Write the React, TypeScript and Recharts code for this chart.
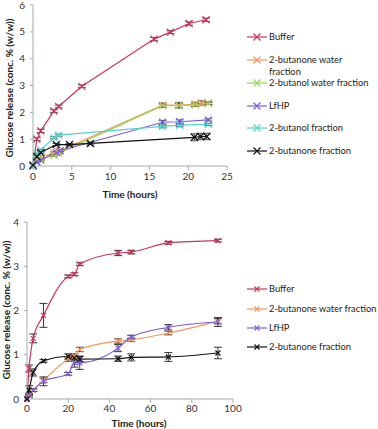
import { LineChart, Line, XAxis, YAxis, ErrorBar } from 'recharts';

// ---- top chart (0-25 h) ----
const t1Buffer = [0, 0.5, 1, 2.7, 3.3, 6.3, 15.6, 17.7, 20.1, 22.3];
const v1Buffer = [0, 1.0, 1.31, 2.05, 2.22, 2.97, 4.73, 4.99, 5.31, 5.45];
const e1Buffer = [0, 0.05, 0.06, 0.05, 0.05, 0.05, 0.06, 0.05, 0.06, 0.06];

const t1OneWater = [0, 0.5, 1, 2.7, 3.3, 16.7, 18.8, 20.9, 21.7, 22.6];
const v1OneWater = [0.03, 0.25, 0.33, 0.48, 0.55, 2.27, 2.27, 2.3, 2.35, 2.35];
const e1OneWater = [0, 0.03, 0.03, 0.04, 0.04, 0.08, 0.1, 0.08, 0.08, 0.05];

const t1OlWater = [0, 0.5, 1, 2.7, 3.3, 16.7, 18.8, 20.9, 22.6];
const v1OlWater = [0, 0.18, 0.26, 0.4, 0.48, 2.25, 2.25, 2.28, 2.33];
const e1OlWater = [0, 0.03, 0.03, 0.03, 0.03, 0.06, 0.08, 0.06, 0.04];

const t1LfHP = [0, 0.5, 1, 3, 3.5, 16.7, 18.9, 22.6];
const v1LfHP = [0, 0.15, 0.22, 0.5, 0.57, 1.63, 1.65, 1.72];
const e1LfHP = [0, 0.02, 0.02, 0.04, 0.04, 0.07, 0.07, 0.04];

const t1Ol = [0, 0.5, 1, 2.7, 3.3, 16.7, 18.9, 22.6];
const v1Ol = [0, 0.45, 0.6, 1.05, 1.15, 1.48, 1.52, 1.55];
const e1Ol = [0, 0.03, 0.03, 0.04, 0.04, 0.06, 0.06, 0.04];

const t1One = [0, 0.5, 1, 3, 4.7, 7.4, 20.8, 21.6, 22.4];
const v1One = [0.03, 0.35, 0.5, 0.8, 0.8, 0.84, 1.07, 1.1, 1.1];
const e1One = [0, 0.03, 0.03, 0.04, 0.04, 0.05, 0.13, 0.12, 0.12];

// ---- bottom chart (0-100 h) ----
const t2 = [0, 1, 3, 8, 20, 23, 25.6, 44.2, 50.6, 68.6, 92.7];
const v2Buffer = [0, 0.69, 1.37, 1.89, 2.77, 2.82, 3.05, 3.3, 3.32, 3.53, 3.58];
const e2Buffer = [0, 0.08, 0.1, 0.27, 0.03, 0.03, 0.03, 0.06, 0.04, 0.03, 0.03];
const v2OneWater = [0, 0.07, 0.2, 0.42, 0.9, 0.97, 1.12, 1.31, 1.34, 1.49, 1.76];
const e2OneWater = [0, 0.03, 0.03, 0.05, 0.05, 0.05, 0.05, 0.05, 0.04, 0.04, 0.06];
const v2LfHP = [0, 0.1, 0.2, 0.4, 0.57, 0.82, 0.82, 1.15, 1.4, 1.62, 1.74];
const e2LfHP = [0, 0.03, 0.03, 0.1, 0.03, 0.1, 0.15, 0.08, 0.04, 0.06, 0.1];
const v2One = [0, 0.2, 0.6, 0.86, 0.96, 0.93, 0.9, 0.91, 0.94, 0.95, 1.04];
const e2One = [0, 0.1, 0.08, 0.03, 0.06, 0.05, 0.06, 0.06, 0.08, 0.1, 0.13];

const xTicks1 = [0, 5, 10, 15, 20, 25];
const yTicks1 = [0, 1, 2, 3, 4, 5, 6];
const xTicks2 = [0, 20, 40, 60, 80, 100];
const yTicks2 = [0, 1, 2, 3, 4];

const C_BUFFER = '#c9375a';
const C_ONEWATER = '#f7975a';
const C_OLWATER = '#95d65a';
const C_LFHP = '#7d5ed9';
const C_OL = '#4fd3cf';
const C_ONE = '#111111';

const FONT = 'Lato, "Open Sans", sans-serif';
const AXIS = '#a3abb3';

const pts = (xs: number[], ys: number[], es: number[]) =>
  xs.map((x, i) => ({ x, y: ys[i], e: es[i] }));

const top = [
  { name: 'Buffer', color: C_BUFFER, data: pts(t1Buffer, v1Buffer, e1Buffer) },
  { name: '2-butanone water\nfraction', color: C_ONEWATER, data: pts(t1OneWater, v1OneWater, e1OneWater) },
  { name: '2-butanol water fraction', color: C_OLWATER, data: pts(t1OlWater, v1OlWater, e1OlWater) },
  { name: 'LfHP', color: C_LFHP, data: pts(t1LfHP, v1LfHP, e1LfHP) },
  { name: '2-butanol fraction', color: C_OL, data: pts(t1Ol, v1Ol, e1Ol) },
  { name: '2-butanone fraction', color: C_ONE, data: pts(t1One, v1One, e1One) },
];

const bottom = [
  { name: 'Buffer', color: C_BUFFER, data: pts(t2, v2Buffer, e2Buffer) },
  { name: '2-butanone water fraction', color: C_ONEWATER, data: pts(t2, v2OneWater, e2OneWater) },
  { name: 'LfHP', color: C_LFHP, data: pts(t2, v2LfHP, e2LfHP) },
  { name: '2-butanone fraction', color: C_ONE, data: pts(t2, v2One, e2One) },
];

function xDot(color: string, s: number) {
  return (props: any) => {
    const { cx, cy, index } = props;
    if (cx == null || cy == null) return <g key={index} />;
    return (
      <path
        key={index}
        d={`M${cx - s},${cy - s}L${cx + s},${cy + s}M${cx - s},${cy + s}L${cx + s},${cy - s}`}
        stroke={color}
        strokeWidth={1.2}
        fill="none"
      />
    );
  };
}

function yTitle(x: number, y: number) {
  return () => (
    <text
      x={x}
      y={y}
      transform={`rotate(-90 ${x} ${y})`}
      textAnchor="middle"
      dominantBaseline="central"
      fontFamily={FONT}
      fontWeight="bold"
      fontSize={10}
      fill="#222"
    >
      Glucose release (conc. % (w/w))
    </text>
  );
}

function Legend({ items, x, ys, s }: { items: { name: string; color: string }[]; x: number; ys: number[]; s: number }) {
  return (
    <>
      {items.map((it, i) => (
        <div
          key={it.name}
          style={{ position: 'absolute', left: x, top: ys[i] - 7, display: 'flex', alignItems: 'flex-start' }}
        >
          <svg width={22} height={14} style={{ flex: 'none' }}>
            <line x1={0} y1={7} x2={20} y2={7} stroke={it.color} strokeWidth={1.2} />
            <path
              d={`M${10 - s},${7 - s}L${10 + s},${7 + s}M${10 - s},${7 + s}L${10 + s},${7 - s}`}
              stroke={it.color}
              strokeWidth={1.2}
            />
          </svg>
          <div
            style={{
              fontFamily: FONT,
              fontSize: 9.3,
              lineHeight: '12px',
              marginTop: 1,
              color: '#222',
              whiteSpace: 'pre',
            }}
          >
            {it.name}
          </div>
        </div>
      ))}
    </>
  );
}

export default function App() {
  const tick = { fontFamily: FONT, fontSize: 10, fill: '#333' };
  return (
    <div style={{ position: 'absolute', left: 0, top: 0, width: 378, height: 429, background: '#fff', overflow: 'hidden' }}>
      <div style={{ position: 'absolute', left: 0, top: 0 }}>
        <LineChart width={378} height={205} margin={{ top: 5, right: 151, bottom: 0, left: 0 }}>
          <XAxis
            type="number"
            dataKey="x"
            domain={[0, 25]}
            ticks={xTicks1}
            height={39}
            tickSize={4}
            tickMargin={3}
            stroke={AXIS}
            tick={tick}
            allowDuplicatedCategory={false}
            label={{ value: 'Time (hours)', position: 'insideBottom', offset: 7, fontFamily: FONT, fontWeight: 'bold', fontSize: 10, fill: '#222' }}
          />
          <YAxis
            type="number"
            domain={[0, 6]}
            ticks={yTicks1}
            width={33}
            tickSize={3}
            tickMargin={5}
            stroke={AXIS}
            tick={tick}
            label={{ content: yTitle(9, 88) }}
          />
          {top.map((s) => (
            <Line
              key={s.name}
              data={s.data}
              dataKey="y"
              type="linear"
              stroke={s.color}
              strokeWidth={1.2}
              dot={xDot(s.color, 3.5)}
              activeDot={false}
              isAnimationActive={false}
            >
              <ErrorBar dataKey="e" width={4} stroke="#444" strokeWidth={0.9} direction="y" />
            </Line>
          ))}
        </LineChart>
      </div>
      <Legend items={top} x={247} ys={[37, 60, 83, 106, 128, 151]} s={3.5} />

      <div style={{ position: 'absolute', left: 0, top: 210 }}>
        <LineChart width={378} height={219} margin={{ top: 12, right: 145, bottom: 0, left: 0 }}>
          <XAxis
            type="number"
            dataKey="x"
            domain={[0, 100]}
            ticks={xTicks2}
            height={30}
            tickSize={4}
            tickMargin={2}
            stroke={AXIS}
            tick={tick}
            allowDuplicatedCategory={false}
            label={{ value: 'Time (hours)', position: 'insideBottom', offset: 2, dx: 9, fontFamily: FONT, fontWeight: 'bold', fontSize: 10, fill: '#222' }}
          />
          <YAxis
            type="number"
            domain={[0, 4]}
            ticks={yTicks2}
            width={27}
            tickSize={3}
            tickMargin={5}
            stroke={AXIS}
            tick={tick}
            label={{ content: yTitle(6, 100) }}
          />
          {bottom.map((s) => (
            <Line
              key={s.name}
              data={s.data}
              dataKey="y"
              type="monotone"
              stroke={s.color}
              strokeWidth={1.2}
              dot={xDot(s.color, 2.5)}
              activeDot={false}
              isAnimationActive={false}
            >
              <ErrorBar dataKey="e" width={4} stroke="#222" strokeWidth={0.9} direction="y" />
            </Line>
          ))}
        </LineChart>
      </div>
      <Legend items={bottom} x={247} ys={[289, 309, 328, 347]} s={2.5} />
    </div>
  );
}
